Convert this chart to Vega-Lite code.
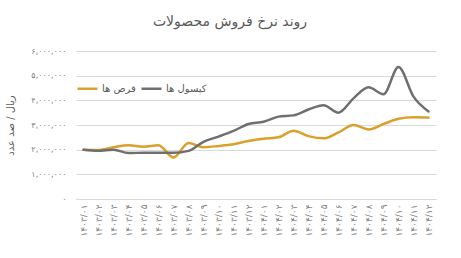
{
  "$schema": "https://vega.github.io/schema/vega-lite/v6.json",
  "width": 360,
  "height": 148,
  "autosize": {"type": "none"},
  "padding": {"left": 76, "top": 51, "right": 25, "bottom": 59},
  "title": {"text": "روند نرخ فروش محصولات", "fontSize": 14, "fontWeight": "normal", "color": "#595959", "font": "DejaVu Sans", "anchor": "middle", "dx": -26, "offset": 18},
  "config": {
    "view": {"stroke": null},
    "font": "DejaVu Sans",
    "locale": {"number": {"decimal": ".", "thousands": ",", "grouping": [3], "currency": ["", ""], "numerals": ["۰","۱","۲","۳","۴","۵","۶","۷","۸","۹"]}}
  },
  "data": {"values": [
    {"month": "۱۴۰۳/۰۱", "series": "قرص ها", "value": 2000000},
    {"month": "۱۴۰۳/۰۲", "series": "قرص ها", "value": 1990000},
    {"month": "۱۴۰۳/۰۳", "series": "قرص ها", "value": 2100000},
    {"month": "۱۴۰۳/۰۴", "series": "قرص ها", "value": 2180000},
    {"month": "۱۴۰۳/۰۵", "series": "قرص ها", "value": 2120000},
    {"month": "۱۴۰۳/۰۶", "series": "قرص ها", "value": 2180000},
    {"month": "۱۴۰۳/۰۷", "series": "قرص ها", "value": 1680000},
    {"month": "۱۴۰۳/۰۸", "series": "قرص ها", "value": 2270000},
    {"month": "۱۴۰۳/۰۹", "series": "قرص ها", "value": 2100000},
    {"month": "۱۴۰۳/۱۰", "series": "قرص ها", "value": 2150000},
    {"month": "۱۴۰۳/۱۱", "series": "قرص ها", "value": 2220000},
    {"month": "۱۴۰۳/۱۲", "series": "قرص ها", "value": 2350000},
    {"month": "۱۴۰۴/۰۱", "series": "قرص ها", "value": 2440000},
    {"month": "۱۴۰۴/۰۲", "series": "قرص ها", "value": 2500000},
    {"month": "۱۴۰۴/۰۳", "series": "قرص ها", "value": 2770000},
    {"month": "۱۴۰۴/۰۴", "series": "قرص ها", "value": 2550000},
    {"month": "۱۴۰۴/۰۵", "series": "قرص ها", "value": 2460000},
    {"month": "۱۴۰۴/۰۶", "series": "قرص ها", "value": 2700000},
    {"month": "۱۴۰۴/۰۷", "series": "قرص ها", "value": 3000000},
    {"month": "۱۴۰۴/۰۸", "series": "قرص ها", "value": 2820000},
    {"month": "۱۴۰۴/۰۹", "series": "قرص ها", "value": 3040000},
    {"month": "۱۴۰۴/۱۰", "series": "قرص ها", "value": 3250000},
    {"month": "۱۴۰۴/۱۱", "series": "قرص ها", "value": 3310000},
    {"month": "۱۴۰۴/۱۲", "series": "قرص ها", "value": 3300000},
    {"month": "۱۴۰۳/۰۱", "series": "کپسول ها", "value": 2000000},
    {"month": "۱۴۰۳/۰۲", "series": "کپسول ها", "value": 1960000},
    {"month": "۱۴۰۳/۰۳", "series": "کپسول ها", "value": 2000000},
    {"month": "۱۴۰۳/۰۴", "series": "کپسول ها", "value": 1860000},
    {"month": "۱۴۰۳/۰۵", "series": "کپسول ها", "value": 1880000},
    {"month": "۱۴۰۳/۰۶", "series": "کپسول ها", "value": 1880000},
    {"month": "۱۴۰۳/۰۷", "series": "کپسول ها", "value": 1870000},
    {"month": "۱۴۰۳/۰۸", "series": "کپسول ها", "value": 1950000},
    {"month": "۱۴۰۳/۰۹", "series": "کپسول ها", "value": 2320000},
    {"month": "۱۴۰۳/۱۰", "series": "کپسول ها", "value": 2530000},
    {"month": "۱۴۰۳/۱۱", "series": "کپسول ها", "value": 2760000},
    {"month": "۱۴۰۳/۱۲", "series": "کپسول ها", "value": 3040000},
    {"month": "۱۴۰۴/۰۱", "series": "کپسول ها", "value": 3130000},
    {"month": "۱۴۰۴/۰۲", "series": "کپسول ها", "value": 3340000},
    {"month": "۱۴۰۴/۰۳", "series": "کپسول ها", "value": 3390000},
    {"month": "۱۴۰۴/۰۴", "series": "کپسول ها", "value": 3630000},
    {"month": "۱۴۰۴/۰۵", "series": "کپسول ها", "value": 3800000},
    {"month": "۱۴۰۴/۰۶", "series": "کپسول ها", "value": 3500000},
    {"month": "۱۴۰۴/۰۷", "series": "کپسول ها", "value": 4080000},
    {"month": "۱۴۰۴/۰۸", "series": "کپسول ها", "value": 4530000},
    {"month": "۱۴۰۴/۰۹", "series": "کپسول ها", "value": 4250000},
    {"month": "۱۴۰۴/۱۰", "series": "کپسول ها", "value": 5350000},
    {"month": "۱۴۰۴/۱۱", "series": "کپسول ها", "value": 4150000},
    {"month": "۱۴۰۴/۱۲", "series": "کپسول ها", "value": 3550000}
  ]},
  "mark": {"type": "line", "interpolate": "monotone", "strokeWidth": 2.5, "strokeCap": "round"},
  "encoding": {
    "x": {
      "field": "month", "type": "ordinal", "sort": null,
      "scale": {"type": "point", "padding": 0.5},
      "axis": {"title": null, "labelAngle": -90, "labelFontSize": 9, "labelColor": "#7f7f7f", "labelPadding": 5, "ticks": false, "domain": true, "domainColor": "#d9d9d9", "grid": false}
    },
    "y": {
      "field": "value", "type": "quantitative",
      "scale": {"domain": [0, 6000000], "nice": false},
      "axis": {
        "title": "ریال / صد عدد", "titleFontSize": 10, "titleFontWeight": "normal", "titleColor": "#595959",
        "titleAngle": -90, "titleX": -66, "titleY": 74, "titleAlign": "center", "titleBaseline": "middle",
        "values": [0, 1000000, 2000000, 3000000, 4000000, 5000000, 6000000],
        "format": ",d", "labelFontSize": 8, "labelColor": "#7f7f7f", "labelPadding": 10,
        "ticks": false, "domain": false, "gridColor": "#d9d9d9", "gridWidth": 1
      }
    },
    "color": {
      "field": "series", "type": "nominal",
      "scale": {"domain": ["قرص ها", "کپسول ها"], "range": ["#DAA02B", "#6F6F6F"]},
      "legend": {
        "title": null, "orient": "none", "legendX": 0, "legendY": 26, "direction": "horizontal",
        "symbolType": "stroke", "symbolSize": 400, "symbolStrokeWidth": 2.5,
        "labelFontSize": 10, "labelColor": "#595959", "columnPadding": 0, "labelOffset": 3
      }
    }
  }
}
